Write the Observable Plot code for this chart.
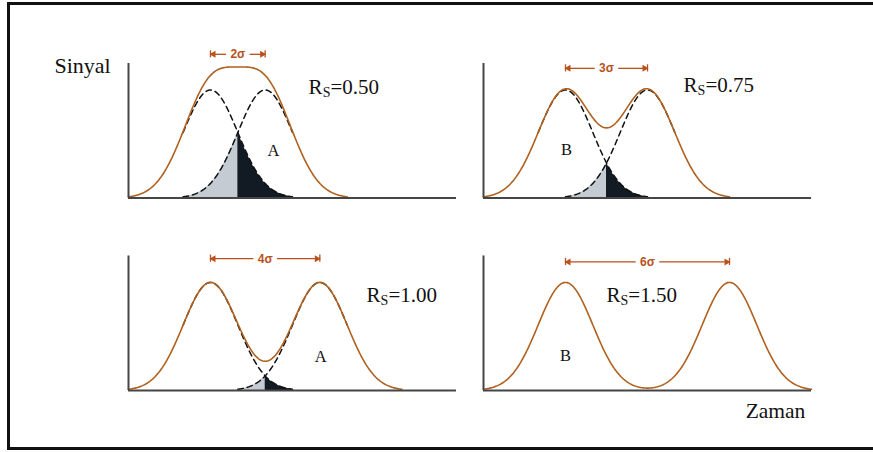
<!DOCTYPE html>
<html>
<head>
<meta charset="utf-8">
<script src="https://cdn.jsdelivr.net/npm/d3@7"></script>
<script src="https://cdn.jsdelivr.net/npm/@observablehq/plot@0.6"></script>
<style>
  html, body { margin: 0; padding: 0; background: #fff; }
  #wrap { position: relative; width: 873px; height: 452px; overflow: hidden; background: #fff; }
  #wrap svg { position: absolute; left: 0; top: 0; }
  #frame { position: absolute; left: 7px; top: 2px; width: 900px; height: 442px; border: 3px solid #111; pointer-events: none; }
</style>
</head>
<body>
<div id="wrap"><div id="frame"></div></div>
<script>
// ---- data (x in units of σ, y in units of single-peak height) ----
const resolution = ["0.50", "0.75", "1.00", "1.50"];
const separationLabels = ["2σ", "3σ", "4σ", "6σ"];
const peakSeparation = [2, 3, 4, 6];
const firstPeakCentre = [3, 3, 3, 3];
const peakHeight = [1, 1, 1, 1];
const labeledPeak = ["A", "B", "A", "B"];
const showOverlap = [true, true, true, false];
const panelCol = [0, 1, 0, 1];
const panelRow = [0, 0, 1, 1];

// ---- annotation placement (data units) ----
const rsLabelX = [6.59, 7.32, 8.71, 4.5];
const rsLabelY = [0.963, 0.98, 0.82, 0.82];
const peakLabelX = [5.3, 3.04, 7.03, 3.0];
const peakLabelY = [0.44, 0.45, 0.31, 0.32];
const spanArrowY = [1.33, 1.2, 1.22, 1.19];

const sigma = 1;
function range(a, b, step) {
  const n = Math.max(1, Math.round((b - a) / step));
  return d3.range(n + 1).map(k => a + (k * (b - a)) / n);
}

const combined = [], single = [], lightArea = [], darkArea = [];
const arrows = [], leftHeads = [], rightHeads = [], arrowTicks = [], panels = [];
resolution.forEach((r, i) => {
  const col = panelCol[i], row = panelRow[i];
  const c1 = firstPeakCentre[i], c2 = c1 + peakSeparation[i], mid = (c1 + c2) / 2;
  const g = (t, c) => peakHeight[i] * Math.exp(-((t - c) ** 2) / (2 * sigma * sigma));
  panels.push({col, row, i, mid, c1, c2});
  for (const t of range(0, c2 + 3, 0.03)) combined.push({col, row, t, v: g(t, c1) + g(t, c2)});
  if (showOverlap[i]) {
    for (const t of range(c1 - 1, c1 + 3, 0.03)) single.push({col, row, key: i + "a", t, v: g(t, c1)});
    for (const t of range(c2 - 3, c2 + 1, 0.03)) single.push({col, row, key: i + "b", t, v: g(t, c2)});
    for (const t of range(c2 - 3, mid, 0.02)) lightArea.push({col, row, t, v: g(t, c2)});
    for (const t of range(mid, c1 + 3, 0.02)) darkArea.push({col, row, t, v: g(t, c1)});
  }
  const gap = 0.43;
  arrows.push({col, row, x1: mid - gap, x2: c1, y: spanArrowY[i]});
  arrows.push({col, row, x1: mid + gap, x2: c2, y: spanArrowY[i]});
  leftHeads.push({col, row, x: c1, y: spanArrowY[i]});
  rightHeads.push({col, row, x: c2, y: spanArrowY[i]});
  arrowTicks.push({col, row, x: c1, y: spanArrowY[i]});
  arrowTicks.push({col, row, x: c2, y: spanArrowY[i]});
});

const orange = "#b0601f";
const arrowColor = "#b8521c";
const serif = "'Liberation Serif', 'Times New Roman', serif";
const sans = "'Liberation Sans', Arial, sans-serif";

const svg = Plot.plot({
  width: 873,
  height: 452,
  marginLeft: 128,
  marginRight: 62,
  marginTop: 63,
  marginBottom: 62,
  style: {background: "transparent", overflow: "visible"},
  x: {domain: [0, 12], axis: null},
  y: {domain: [0, 1.245], axis: null},
  fx: {domain: [0, 1], axis: null, paddingInner: 0.0761, paddingOuter: 0, round: false},
  fy: {domain: [0, 1], axis: null, paddingInner: 0.301, paddingOuter: 0, round: false},
  marks: [
    Plot.areaY(lightArea, {x: "t", y: "v", fx: "col", fy: "row", fill: "#c5cbd2"}),
    Plot.areaY(darkArea, {x: "t", y: "v", fx: "col", fy: "row", fill: "#121a23"}),
    Plot.line(single, {x: "t", y: "v", z: "key", fx: "col", fy: "row", stroke: "#111", strokeWidth: 1.5, strokeDasharray: "5.5,4"}),
    Plot.line(combined, {x: "t", y: "v", fx: "col", fy: "row", stroke: orange, strokeWidth: 1.6}),
    Plot.ruleX(panels, {x: () => 0, fx: "col", fy: "row", stroke: "#454545", strokeWidth: 2}),
    Plot.ruleY(panels, {y: () => 0, fx: "col", fy: "row", stroke: "#454545", strokeWidth: 2}),
    Plot.link(arrows, {x1: "x1", x2: "x2", y1: "y", y2: "y", fx: "col", fy: "row", stroke: arrowColor, strokeWidth: 1.3}),
    Plot.dot(leftHeads, {x: "x", y: "y", fx: "col", fy: "row", symbol: "triangle", rotate: -90, r: 2.6, dx: 3, fill: arrowColor, stroke: "none"}),
    Plot.dot(rightHeads, {x: "x", y: "y", fx: "col", fy: "row", symbol: "triangle", rotate: 90, r: 2.6, dx: -3, fill: arrowColor, stroke: "none"}),
    Plot.ruleX(arrowTicks, {x: "x", y1: d => d.y - 0.033, y2: d => d.y + 0.033, fx: "col", fy: "row", stroke: arrowColor, strokeWidth: 1.3}),
    Plot.text(panels, {x: "mid", y: d => spanArrowY[d.i], text: d => separationLabels[d.i], fx: "col", fy: "row", fill: arrowColor, fontFamily: sans, fontWeight: "bold", fontSize: 12}),
    Plot.text(panels, {x: d => rsLabelX[d.i], y: d => rsLabelY[d.i], text: d => "RS=" + resolution[d.i], fx: "col", fy: "row", textAnchor: "start", lineAnchor: "bottom", fontFamily: serif, fontSize: 21, fill: "#111"}),
    Plot.text(panels, {x: d => peakLabelX[d.i], y: d => peakLabelY[d.i], text: d => labeledPeak[d.i], fx: "col", fy: "row", fontFamily: serif, fontSize: 16.5, fill: "#111"}),
    Plot.text([{col: 0, row: 0}], {x: () => -2.71, y: () => 1.157, text: () => "Sinyal", fx: "col", fy: "row", textAnchor: "start", lineAnchor: "bottom", fontFamily: serif, fontSize: 22, fill: "#111"}),
    Plot.text([{col: 1, row: 1}], {x: () => 9.59, y: () => -0.25, text: () => "Zaman", fx: "col", fy: "row", textAnchor: "start", lineAnchor: "bottom", fontFamily: serif, fontSize: 21.5, fill: "#111"})
  ]
});

// subscript S in "RS"
d3.select(svg).selectAll("text").each(function () {
  const s = this.textContent;
  if (s.startsWith("RS=")) {
    const el = d3.select(this);
    el.text(null);
    el.append("tspan").text("R");
    el.append("tspan").attr("font-size", 14).attr("dy", 3).text("S");
    el.append("tspan").attr("dy", -3).text(s.slice(2));
  }
});

const wrap = document.getElementById("wrap");
wrap.insertBefore(svg, document.getElementById("frame"));
</script>
</body>
</html>
